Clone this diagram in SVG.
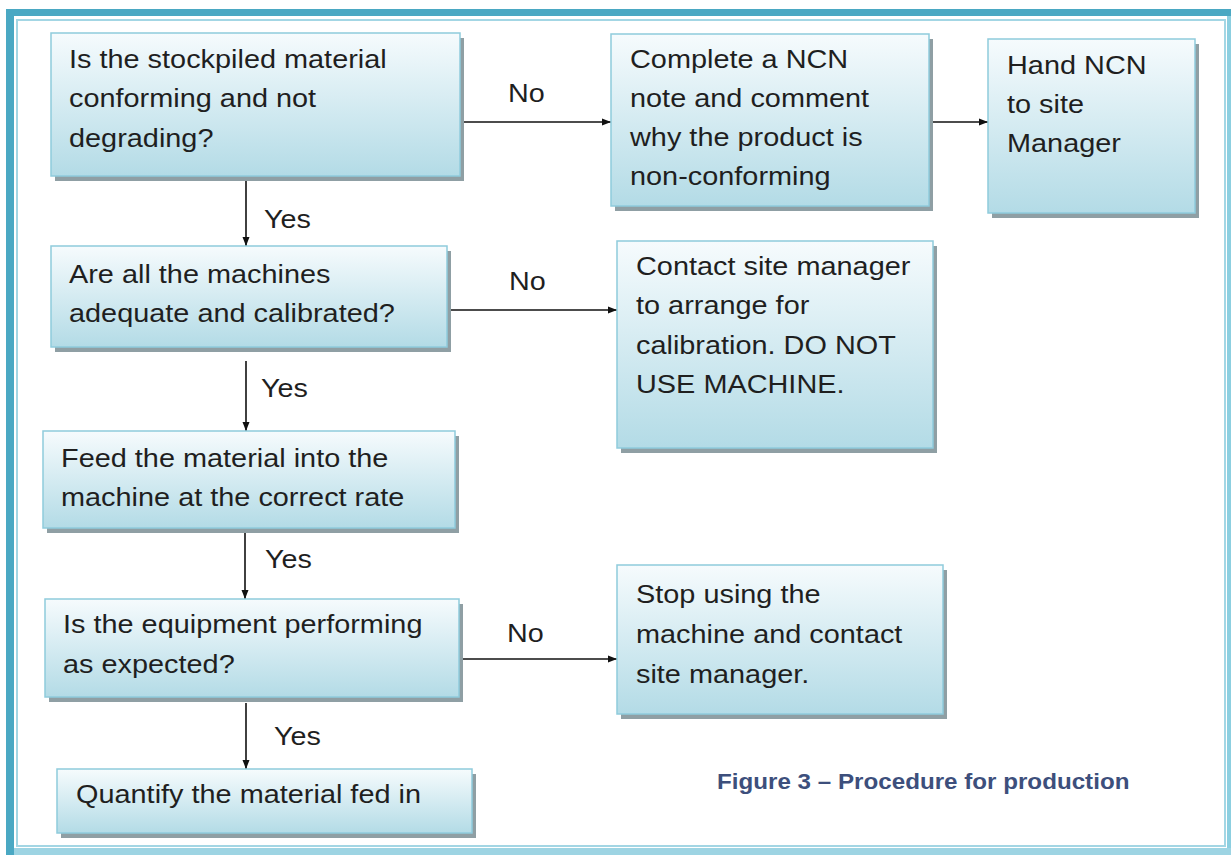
<svg xmlns="http://www.w3.org/2000/svg" width="1231" height="855" viewBox="0 0 1231 855">
  <defs>
    <linearGradient id="boxfill" x1="0" y1="0" x2="0" y2="1">
      <stop offset="0" stop-color="#f6fbfd"/>
      <stop offset="1" stop-color="#b3dbe6"/>
    </linearGradient>
    <marker id="arr" markerWidth="10" markerHeight="8" refX="9" refY="4" orient="auto" markerUnits="userSpaceOnUse">
      <path d="M0,0.5 L9,4 L0,7.5 Z" fill="#111"/>
    </marker>
    <style>
      .shadow { fill: #8f9fa4; }
      .box { fill: url(#boxfill); stroke: #8fcbdc; stroke-width: 1.5; }
      .t { font-family: "Liberation Sans", Arial, sans-serif; font-size: 25px; fill: #1f1f1f; }
      .lbl { font-family: "Liberation Sans", Arial, sans-serif; font-size: 25px; fill: #1f1f1f; }
      .conn { stroke: #111; stroke-width: 1.6; fill: none; marker-end: url(#arr); }
      .cap { font-family: "Liberation Sans", Arial, sans-serif; font-size: 21.5px; font-weight: bold; fill: #3d4f7c; }
    </style>
  </defs>

  <rect x="0" y="0" width="1231" height="855" fill="#ffffff"/>

  <!-- frame -->
  <g id="frame">
    <rect x="6" y="9" width="1225" height="7" fill="#4aa8c3"/>
    <rect x="6" y="9" width="8" height="846" fill="#4aa8c3"/>
    <rect x="1227" y="16" width="4" height="839" fill="#8ccfe0"/>
    <rect x="14" y="848" width="1217" height="7" fill="#9dd4e3"/>
    <rect x="17" y="20" width="1208" height="826" fill="none" stroke="#a3d6e4" stroke-width="2"/>
  </g>

  <!-- connectors -->
  <g id="connectors">
    <line class="conn" x1="246" y1="177" x2="246" y2="246"/>
    <line class="conn" x1="460" y1="122" x2="611" y2="122"/>
    <line class="conn" x1="929" y1="122" x2="988" y2="122"/>
    <line class="conn" x1="447" y1="310" x2="617" y2="310"/>
    <line class="conn" x1="246" y1="361" x2="246" y2="431"/>
    <line class="conn" x1="245" y1="533" x2="245" y2="599"/>
    <line class="conn" x1="459" y1="659" x2="617" y2="659"/>
    <line class="conn" x1="246" y1="703" x2="246" y2="769"/>
    <text class="lbl" transform="matrix(1.15 0 0 1 508 102)">No</text>
    <text class="lbl" transform="matrix(1.15 0 0 1 264 228)">Yes</text>
    <text class="lbl" transform="matrix(1.15 0 0 1 509 290)">No</text>
    <text class="lbl" transform="matrix(1.15 0 0 1 261 397)">Yes</text>
    <text class="lbl" transform="matrix(1.15 0 0 1 265 568)">Yes</text>
    <text class="lbl" transform="matrix(1.15 0 0 1 507 642)">No</text>
    <text class="lbl" transform="matrix(1.15 0 0 1 274 745)">Yes</text>
  </g>

  <g id="n1">
    <rect class="shadow" x="55" y="38" width="409" height="143"/>
    <rect class="box" x="51" y="33" width="409" height="143"/>
    <text class="t" transform="matrix(1.155 0 0 1 69 68)"><tspan x="0" y="0">Is the stockpiled material</tspan><tspan x="0" y="39.3">conforming and not</tspan><tspan x="0" y="78.6">degrading?</tspan></text>
  </g>

  <g id="n2">
    <rect class="shadow" x="615" y="39" width="318" height="172"/>
    <rect class="box" x="611" y="34" width="318" height="172"/>
    <text class="t" transform="matrix(1.155 0 0 1 630 68)"><tspan x="0" y="0">Complete a NCN</tspan><tspan x="0" y="39.1">note and comment</tspan><tspan x="0" y="78.2">why the product is</tspan><tspan x="0" y="117.3">non-conforming</tspan></text>
  </g>

  <g id="n3">
    <rect class="shadow" x="992" y="44" width="207" height="174"/>
    <rect class="box" x="988" y="39" width="207" height="174"/>
    <text class="t" transform="matrix(1.155 0 0 1 1007 74)"><tspan x="0" y="0">Hand NCN</tspan><tspan x="0" y="39">to site</tspan><tspan x="0" y="78">Manager</tspan></text>
  </g>

  <g id="n4">
    <rect class="shadow" x="55" y="251" width="396" height="101"/>
    <rect class="box" x="51" y="246" width="396" height="101"/>
    <text class="t" transform="matrix(1.155 0 0 1 69 283)"><tspan x="0" y="0">Are all the machines</tspan><tspan x="0" y="39">adequate and calibrated?</tspan></text>
  </g>

  <g id="n5">
    <rect class="shadow" x="621" y="246" width="316" height="207"/>
    <rect class="box" x="617" y="241" width="316" height="207"/>
    <text class="t" transform="matrix(1.155 0 0 1 636 275)"><tspan x="0" y="0">Contact site manager</tspan><tspan x="0" y="39.5">to arrange for</tspan><tspan x="0" y="79">calibration. DO NOT</tspan><tspan x="0" y="118.5">USE MACHINE.</tspan></text>
  </g>

  <g id="n6">
    <rect class="shadow" x="47" y="436" width="412" height="97"/>
    <rect class="box" x="43" y="431" width="412" height="97"/>
    <text class="t" transform="matrix(1.155 0 0 1 61 467)"><tspan x="0" y="0">Feed the material into the</tspan><tspan x="0" y="39">machine at the correct rate</tspan></text>
  </g>

  <g id="n7">
    <rect class="shadow" x="49" y="604" width="414" height="98"/>
    <rect class="box" x="45" y="599" width="414" height="98"/>
    <text class="t" transform="matrix(1.155 0 0 1 63 633)"><tspan x="0" y="0">Is the equipment performing</tspan><tspan x="0" y="40">as expected?</tspan></text>
  </g>

  <g id="n8">
    <rect class="shadow" x="621" y="570" width="326" height="149"/>
    <rect class="box" x="617" y="565" width="326" height="149"/>
    <text class="t" transform="matrix(1.155 0 0 1 636 603)"><tspan x="0" y="0">Stop using the</tspan><tspan x="0" y="40">machine and contact</tspan><tspan x="0" y="80">site manager.</tspan></text>
  </g>

  <g id="n9">
    <rect class="shadow" x="61" y="774" width="415" height="64"/>
    <rect class="box" x="57" y="769" width="415" height="64"/>
    <text class="t" transform="matrix(1.155 0 0 1 76 803)">Quantify the material fed in</text>
  </g>

  <g id="caption">
    <text class="cap" transform="matrix(1.125 0 0 1 717 789)">Figure 3 – Procedure for production</text>
  </g>
</svg>
